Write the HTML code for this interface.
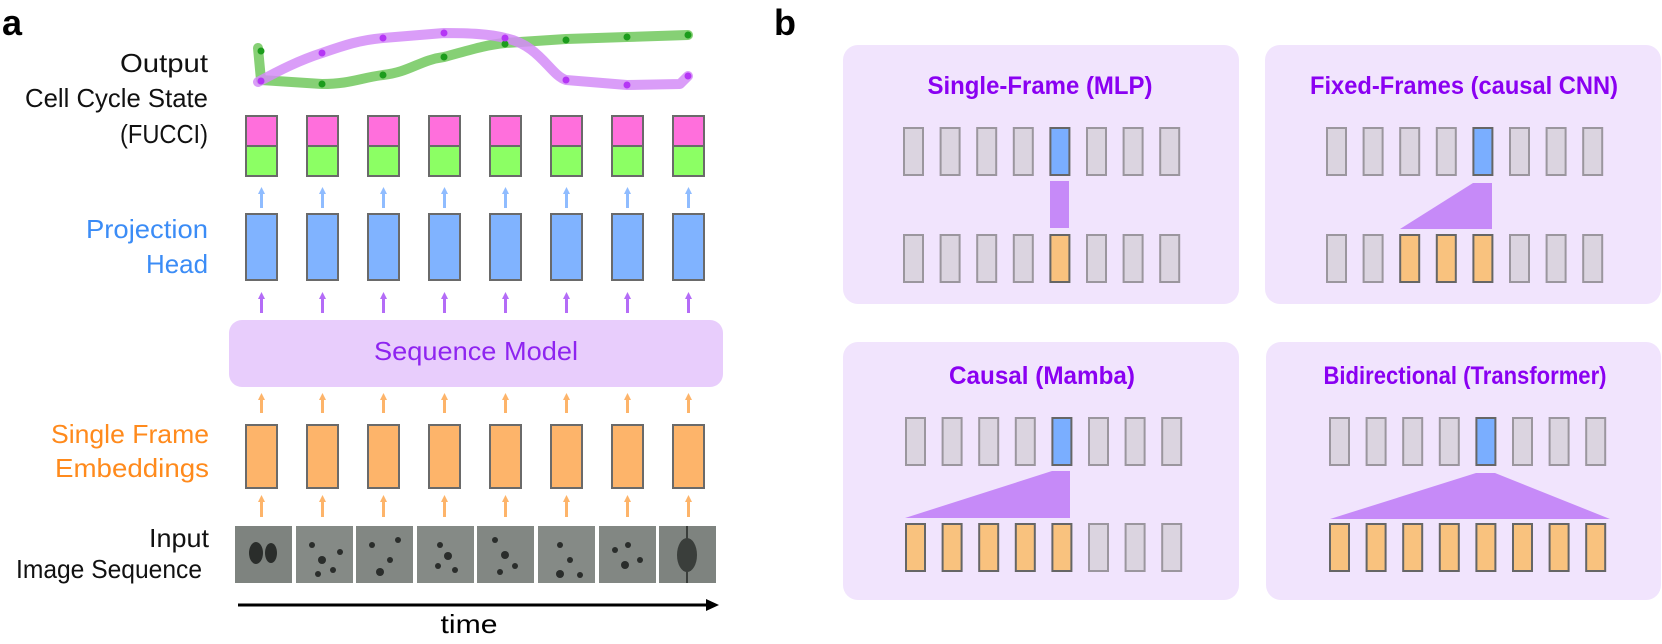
<!DOCTYPE html>
<html><head><meta charset="utf-8"><style>
html,body{margin:0;padding:0;background:#fff;width:1662px;height:644px;overflow:hidden}
svg text{font-family:"Liberation Sans",sans-serif}
</style></head><body>
<svg width="1662" height="644" viewBox="0 0 1662 644" xmlns="http://www.w3.org/2000/svg">
<!-- Panel a labels -->
<text x="2" y="35" font-size="36" font-weight="bold">a</text>
<g font-size="26" text-anchor="end" fill="#111">
<text x="208" y="72" textLength="88" lengthAdjust="spacingAndGlyphs">Output</text>
<text x="208" y="107" textLength="183" lengthAdjust="spacingAndGlyphs">Cell Cycle State</text>
<text x="208" y="143" textLength="88" lengthAdjust="spacingAndGlyphs">(FUCCI)</text>
</g>
<g font-size="26" text-anchor="end" fill="#3b8cf6">
<text x="208" y="238" textLength="122" lengthAdjust="spacingAndGlyphs">Projection</text>
<text x="208" y="273" textLength="62" lengthAdjust="spacingAndGlyphs">Head</text>
</g>
<g font-size="26" text-anchor="end" fill="#ff8a1c">
<text x="209" y="443" textLength="158" lengthAdjust="spacingAndGlyphs">Single Frame</text>
<text x="209" y="477" textLength="154" lengthAdjust="spacingAndGlyphs">Embeddings</text>
</g>
<g font-size="26" text-anchor="end" fill="#111">
<text x="209" y="547" textLength="60" lengthAdjust="spacingAndGlyphs">Input</text>
<text x="202" y="578" textLength="186" lengthAdjust="spacingAndGlyphs">Image Sequence</text>
</g>

<!-- curves -->
<g fill="none" stroke-linecap="round" stroke-linejoin="round" stroke-width="10">
<path d="M258,48 L261,80 L322,84 C350,84 360,78 383,75 C410,72 420,60 444,57 C470,50 485,45 505,43 L566,39 L627,37 L688,35" stroke="#7fcd6e" opacity="0.95"/>
<path d="M258,82 C280,70 300,60 322,53 C345,45 360,40 383,38 L444,33 C470,33 490,34 505,38 C540,45 550,75 566,80 L627,85 L680,84 L688,76" stroke="#d48cf7" opacity="0.85"/>
</g>
<g fill="#1c9c1c">
<circle cx="261" cy="51" r="3.5"/><circle cx="322" cy="84" r="3.5"/><circle cx="383" cy="75" r="3.5"/><circle cx="444" cy="57" r="3.5"/><circle cx="505" cy="44" r="3.5"/><circle cx="566" cy="40" r="3.5"/><circle cx="627" cy="37" r="3.5"/><circle cx="688" cy="35" r="3.5"/>
</g>
<g fill="#b536f5">
<circle cx="261" cy="81" r="3.5"/><circle cx="322" cy="53" r="3.5"/><circle cx="383" cy="38" r="3.5"/><circle cx="444" cy="33" r="3.5"/><circle cx="505" cy="38" r="3.5"/><circle cx="566" cy="80" r="3.5"/><circle cx="627" cy="85" r="3.5"/><circle cx="688" cy="76" r="3.5"/>
</g>

<rect x="229" y="320" width="494" height="67" rx="13" fill="#e8cdfc"/>
<text x="476" y="360" font-size="26" text-anchor="middle" fill="#8e24f0" textLength="204" lengthAdjust="spacingAndGlyphs">Sequence Model</text>

<g stroke="#6a6a6a" stroke-width="2">
<g>
<rect x="246" y="116" width="31" height="30" fill="#ff6fdc"/><rect x="246" y="146" width="31" height="30" fill="#8cff64"/>
<rect x="307" y="116" width="31" height="30" fill="#ff6fdc"/><rect x="307" y="146" width="31" height="30" fill="#8cff64"/>
<rect x="368" y="116" width="31" height="30" fill="#ff6fdc"/><rect x="368" y="146" width="31" height="30" fill="#8cff64"/>
<rect x="429" y="116" width="31" height="30" fill="#ff6fdc"/><rect x="429" y="146" width="31" height="30" fill="#8cff64"/>
<rect x="490" y="116" width="31" height="30" fill="#ff6fdc"/><rect x="490" y="146" width="31" height="30" fill="#8cff64"/>
<rect x="551" y="116" width="31" height="30" fill="#ff6fdc"/><rect x="551" y="146" width="31" height="30" fill="#8cff64"/>
<rect x="612" y="116" width="31" height="30" fill="#ff6fdc"/><rect x="612" y="146" width="31" height="30" fill="#8cff64"/>
<rect x="673" y="116" width="31" height="30" fill="#ff6fdc"/><rect x="673" y="146" width="31" height="30" fill="#8cff64"/>
</g>
<g fill="#80b3ff">
<rect x="246" y="214" width="31" height="66"/><rect x="307" y="214" width="31" height="66"/><rect x="368" y="214" width="31" height="66"/><rect x="429" y="214" width="31" height="66"/><rect x="490" y="214" width="31" height="66"/><rect x="551" y="214" width="31" height="66"/><rect x="612" y="214" width="31" height="66"/><rect x="673" y="214" width="31" height="66"/>
</g>
<g fill="#fdb46a">
<rect x="246" y="425" width="31" height="63"/><rect x="307" y="425" width="31" height="63"/><rect x="368" y="425" width="31" height="63"/><rect x="429" y="425" width="31" height="63"/><rect x="490" y="425" width="31" height="63"/><rect x="551" y="425" width="31" height="63"/><rect x="612" y="425" width="31" height="63"/><rect x="673" y="425" width="31" height="63"/>
</g>
</g>

<g id="arrows"></g>
<script>
(function(){
var ns="http://www.w3.org/2000/svg",g=document.getElementById("arrows");
var rows=[[187,208,"#8fbcff"],[292,313,"#b46cf7"],[393,413,"#fdb46a"],[495,517,"#fdb46a"]];
for(var i=0;i<8;i++){var cx=261.5+61*i;
 rows.forEach(function(r){
  var l=document.createElementNS(ns,"line");l.setAttribute("x1",cx);l.setAttribute("x2",cx);l.setAttribute("y1",r[0]+5);l.setAttribute("y2",r[1]);l.setAttribute("stroke",r[2]);l.setAttribute("stroke-width","3");g.appendChild(l);
  var p=document.createElementNS(ns,"polygon");p.setAttribute("points",(cx-3.5)+","+(r[0]+7)+" "+cx+","+r[0]+" "+(cx+3.5)+","+(r[0]+7));p.setAttribute("fill",r[2]);g.appendChild(p);
 });}
})();
</script>

<g>
<rect x="235" y="526" width="57" height="57" fill="#7e837f"/>
<rect x="296" y="526" width="57" height="57" fill="#858a86"/>
<rect x="356" y="526" width="57" height="57" fill="#828783"/>
<rect x="417" y="526" width="57" height="57" fill="#858a86"/>
<rect x="477" y="526" width="57" height="57" fill="#828783"/>
<rect x="538" y="526" width="57" height="57" fill="#858a86"/>
<rect x="599" y="526" width="57" height="57" fill="#828783"/>
<rect x="659" y="526" width="57" height="57" fill="#7e837f"/>
<g fill="#2a2d2b">
<ellipse cx="256" cy="553" rx="7" ry="11"/><ellipse cx="271" cy="553" rx="6" ry="10"/>
<circle cx="312" cy="545" r="3"/><circle cx="322" cy="560" r="4"/><circle cx="333" cy="570" r="3"/><circle cx="318" cy="574" r="3"/><circle cx="340" cy="552" r="3"/>
<circle cx="372" cy="545" r="3"/><circle cx="390" cy="560" r="3"/><circle cx="380" cy="572" r="4"/><circle cx="398" cy="540" r="3"/>
<circle cx="440" cy="545" r="3"/><circle cx="448" cy="556" r="4"/><circle cx="438" cy="566" r="3"/><circle cx="455" cy="570" r="3"/>
<circle cx="495" cy="540" r="3"/><circle cx="505" cy="555" r="4"/><circle cx="515" cy="566" r="3"/><circle cx="500" cy="572" r="3"/>
<circle cx="560" cy="545" r="3"/><circle cx="570" cy="560" r="3"/><circle cx="560" cy="574" r="4"/><circle cx="580" cy="575" r="3"/>
<circle cx="615" cy="550" r="3"/><circle cx="628" cy="545" r="3"/><circle cx="625" cy="565" r="4"/><circle cx="640" cy="560" r="3"/>
</g>
<ellipse cx="687" cy="555" rx="10" ry="17" fill="#3a3e3b"/>
<line x1="687" y1="526" x2="687" y2="583" stroke="#3a3e3b" stroke-width="2"/>
</g>

<line x1="238" y1="605" x2="710" y2="605" stroke="#000" stroke-width="3"/>
<polygon points="706,599 719,605 706,611" fill="#000"/>
<text x="469" y="633" font-size="26" text-anchor="middle" textLength="57" lengthAdjust="spacingAndGlyphs">time</text>

<text x="774" y="35" font-size="36" font-weight="bold">b</text>
<g fill="#f1e4fd">
<rect x="843" y="45" width="396" height="259" rx="15"/>
<rect x="1265" y="45" width="396" height="259" rx="15"/>
<rect x="843" y="342" width="396" height="258" rx="15"/>
<rect x="1266" y="342" width="395" height="258" rx="15"/>
</g>
<g font-size="25" font-weight="bold" fill="#8a00f2" text-anchor="middle">
<text x="1040" y="94" textLength="225" lengthAdjust="spacingAndGlyphs">Single-Frame (MLP)</text>
<text x="1464" y="94" textLength="308" lengthAdjust="spacingAndGlyphs">Fixed-Frames (causal CNN)</text>
<text x="1042" y="384" textLength="186" lengthAdjust="spacingAndGlyphs">Causal (Mamba)</text>
<text x="1465" y="384" textLength="283" lengthAdjust="spacingAndGlyphs">Bidirectional (Transformer)</text>
</g>
<g fill="#c68af8">
<rect x="1050" y="181" width="19" height="47"/>
<polygon points="1473,183 1492,183 1492,229 1400,229"/>
<polygon points="1052,471 1070,471 1070,518 905,518"/>
<polygon points="1476,473 1495,473 1610,519 1330,519"/>
</g>
<g id="bars"></g>
<script>
(function(){
var ns="http://www.w3.org/2000/svg",g=document.getElementById("bars");
function bar(x,y,fill,dark){var r=document.createElementNS(ns,"rect");r.setAttribute("x",x);r.setAttribute("y",y);r.setAttribute("width",19);r.setAttribute("height",47);r.setAttribute("fill",fill);r.setAttribute("stroke",dark?"#666":"#9b969e");r.setAttribute("stroke-width","2");g.appendChild(r);}
var panels=[[904,128,235,[4]],[1327,128,235,[2,3,4]],[906,418,524,[0,1,2,3,4]],[1330,418,524,[0,1,2,3,4,5,6,7]]];
panels.forEach(function(p){for(var i=0;i<8;i++){var x=p[0]+36.6*i;
 if(i==4)bar(x,p[1],"#7aaeff",1);else bar(x,p[1],"#dbd4e0",0);
 if(p[3].indexOf(i)>=0)bar(x,p[2],"#f9c27e",1);else bar(x,p[2],"#dbd4e0",0);}});
})();
</script>
</svg>
</body></html>
